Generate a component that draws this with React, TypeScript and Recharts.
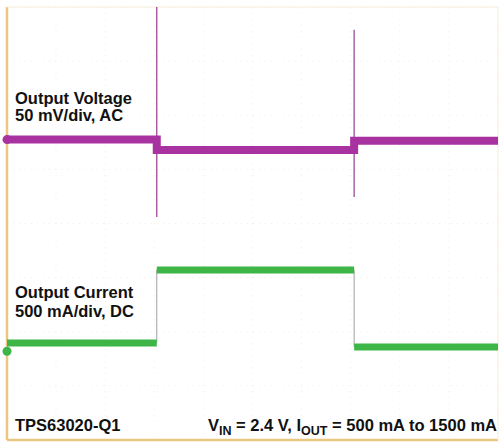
import React from "react";
import {
  ComposedChart,
  Line,
  XAxis,
  YAxis,
  CartesianGrid,
  ReferenceLine,
  ReferenceDot,
} from "recharts";

// scope screen: 10 horizontal divisions, 8 vertical divisions
const xTicks = [0, 1, 2, 3, 4, 5, 6, 7, 8, 9, 10];
const yTicks = [0, 1, 2, 3, 4, 5, 6, 7, 8];

// load step times (div)
const stepTimes = [3.05, 7.07];

// output voltage levels (div): before step, during heavy load, after step
const voltageLevels = [5.55, 5.36, 5.53];
// transient spikes at each step: [top, bottom]
const spikeTops = [8, 7.58];
const spikeBottoms = [4.12, 4.49];

// output current levels (div)
const currentLevels = [1.79, 3.14, 1.72];

const voltageBand = [
  { t: 0, v: voltageLevels[0] },
  { t: stepTimes[0], v: voltageLevels[0] },
  { t: stepTimes[0], v: voltageLevels[1] },
  { t: stepTimes[1], v: voltageLevels[1] },
  { t: stepTimes[1], v: voltageLevels[2] },
  { t: 10, v: voltageLevels[2] },
];

const spike1 = [
  { t: stepTimes[0], v: spikeTops[0] },
  { t: stepTimes[0], v: spikeBottoms[0] },
];
const spike2 = [
  { t: stepTimes[1], v: spikeTops[1] },
  { t: stepTimes[1], v: spikeBottoms[1] },
];

const currentBand = [
  { t: 0, v: currentLevels[0] },
  { t: stepTimes[0], v: currentLevels[0] },
  { t: stepTimes[0], v: null },
  { t: stepTimes[0], v: currentLevels[1] },
  { t: stepTimes[1], v: currentLevels[1] },
  { t: stepTimes[1], v: null },
  { t: stepTimes[1], v: currentLevels[2] },
  { t: 10, v: currentLevels[2] },
];

const currentEdges = [
  { t: stepTimes[0], v: currentLevels[0] },
  { t: stepTimes[0], v: currentLevels[1] },
  { t: stepTimes[1], v: currentLevels[1] },
  { t: stepTimes[1], v: currentLevels[2] },
];

const PURPLE = "#a8329f";
const GREEN = "#3db547";
const FRAME = "#eac680";

const textStyle = {
  fontFamily: "'Liberation Sans', Arial, sans-serif",
  fontWeight: 700,
  fontSize: 16.5,
  fill: "#111",
};

const App = () => (
  <div style={{ position: "absolute", left: 0, top: 0, width: 501, height: 443, background: "#fff" }}>
    <ComposedChart
      width={501}
      height={443}
      margin={{ top: 7, right: 3, bottom: 3, left: 7 }}
    >
      <CartesianGrid stroke="#f6eedd" strokeDasharray="1 5" />
      <XAxis type="number" dataKey="t" domain={[0, 10]} ticks={xTicks} hide allowDuplicatedCategory={false} />
      <YAxis type="number" domain={[0, 8]} ticks={yTicks} hide />
      <ReferenceLine x={0} stroke={FRAME} strokeWidth={2.5} />
      <ReferenceLine y={0} stroke={FRAME} strokeWidth={2.5} />
      <ReferenceLine y={8} stroke="#f7eedb" strokeWidth={1} />
      <ReferenceLine x={10} stroke="#f7eedb" strokeWidth={1} />
      <Line data={spike1} dataKey="v" stroke="#9c4a97" strokeWidth={1.3} dot={false} isAnimationActive={false} />
      <Line data={spike2} dataKey="v" stroke="#9c4a97" strokeWidth={1.3} dot={false} isAnimationActive={false} />
      <Line data={voltageBand} dataKey="v" stroke={PURPLE} strokeWidth={8} dot={false} isAnimationActive={false} />
      <Line data={currentEdges} dataKey="v" stroke="#a0a0a0" strokeWidth={1} dot={false} isAnimationActive={false} />
      <Line data={currentBand} dataKey="v" stroke={GREEN} strokeWidth={7} dot={false} connectNulls={false} isAnimationActive={false} />
      <ReferenceDot x={0} y={voltageLevels[0]} r={4.5} fill={PURPLE} stroke="none" />
      <ReferenceDot x={0} y={currentLevels[0] - 0.15} r={4.5} fill={GREEN} stroke="none" />
    </ComposedChart>
    <svg width={501} height={443} style={{ position: "absolute", left: 0, top: 0, pointerEvents: "none" }}>
      <text x={15} y={104} style={textStyle}>Output Voltage</text>
      <text x={15} y={121} style={textStyle}>50 mV/div, AC</text>
      <text x={15} y={298} style={textStyle}>Output Current</text>
      <text x={15} y={317} style={textStyle}>500 mA/div, DC</text>
      <text x={15} y={431} style={textStyle}>TPS63020-Q1</text>
      <text x={497} y={431} textAnchor="end" style={textStyle}>
        V<tspan dy={4} fontSize={12.5}>IN</tspan>
        <tspan dy={-4}> = 2.4 V, I</tspan>
        <tspan dy={4} fontSize={12.5}>OUT</tspan>
        <tspan dy={-4}> = 500 mA to 1500 mA</tspan>
      </text>
    </svg>
  </div>
);

export default App;
